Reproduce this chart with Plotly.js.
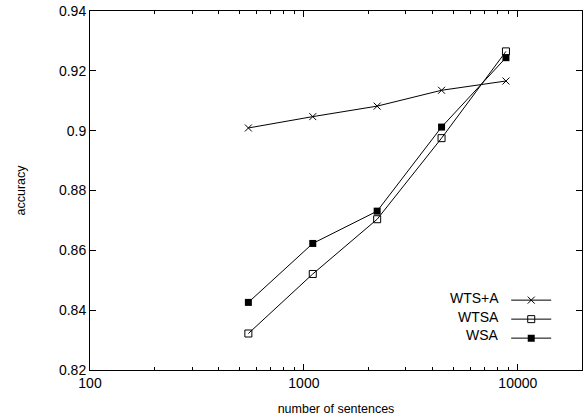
<!DOCTYPE html>
<html>
<head>
<meta charset="utf-8">
<script src="https://cdn.plot.ly/plotly-3.0.1.min.js"></script>
<style>html,body{margin:0;padding:0;background:#fff;}#chart{width:584px;height:419px;}</style>
</head>
<body>
<div id="chart"></div>
<script>
const sentences = [550, 1100, 2200, 4400, 8800];
const wtsA = [0.9009, 0.9047, 0.9082, 0.9135, 0.9166];
const wtsa = [0.8322, 0.8521, 0.8704, 0.8975, 0.9265];
const wsa = [0.8426, 0.8623, 0.8731, 0.9012, 0.9244];
const seriesNames = ["WTS+A", "WTSA", "WSA"];
const yTickVals = [0.82, 0.84, 0.86, 0.88, 0.90, 0.92, 0.94];
const yTickText = ["0.82", "0.84", "0.86", "0.88", "0.9", "0.92", "0.94"];
const xTickVals = [100, 1000, 10000];
const xTickText = ["100", "1000", "10000"];
const xMinorVals = [200,300,400,500,600,700,800,900,2000,3000,4000,5000,6000,7000,8000,9000];

const font = "Liberation Sans, Arial, Helvetica, sans-serif";
const lineStyle = {color: "#000", width: 1};
const traces = [
  {x: sentences, y: wtsA, name: "", mode: "lines+markers", line: lineStyle,
   marker: {symbol: "x-thin-open", size: 7, color: "#000", line: {width: 1, color: "#000"}}},
  {x: sentences, y: wtsa, name: "", mode: "lines+markers", line: lineStyle,
   marker: {symbol: "square-open", size: 7, color: "#000", line: {width: 1, color: "#000"}}},
  {x: sentences, y: wsa, name: "", mode: "lines+markers", line: lineStyle,
   marker: {symbol: "square", size: 7, color: "#000", line: {width: 0, color: "#000"}}}
];

const legendRowY = [0.200, 0.149, 0.098];
const annotations = seriesNames.map((n, i) => ({
  text: n, xref: "paper", yref: "paper", x: 0.835, y: legendRowY[i],
  xanchor: "right", yanchor: "middle", showarrow: false,
  font: {family: font, size: 14, color: "#000"}
}));

const layout = {
  width: 584, height: 419,
  margin: {l: 90, r: 2, t: 11, b: 49},
  paper_bgcolor: "#fff", plot_bgcolor: "#fff",
  font: {family: font, size: 14, color: "#000"},
  showlegend: true,
  legend: {x: 0.846, y: 0.235, xanchor: "left", yanchor: "top", bgcolor: "rgba(0,0,0,0)",
           font: {family: font, size: 11}, itemwidth: 40, tracegroupgap: 0},
  annotations: annotations,
  xaxis: {
    type: "log", range: [2, 4.3],
    title: {text: "number of sentences", font: {size: 12.5}, standoff: 14},
    tickvals: xTickVals, ticktext: xTickText,
    ticks: "inside", ticklen: 6, tickwidth: 1, tickcolor: "#000",
    minor: {tickvals: xMinorVals, ticks: "inside", ticklen: 3, tickwidth: 1, tickcolor: "#000", showgrid: false},
    showline: true, linecolor: "#000", linewidth: 1, mirror: "allticks",
    showgrid: false, zeroline: false, tickfont: {size: 14}
  },
  yaxis: {
    range: [0.82, 0.94],
    title: {text: "accuracy", font: {size: 12.5}, standoff: 30},
    tickvals: yTickVals, ticktext: yTickText,
    ticks: "inside", ticklen: 6, tickwidth: 1, tickcolor: "#000",
    showline: true, linecolor: "#000", linewidth: 1, mirror: "allticks",
    showgrid: false, zeroline: false, tickfont: {size: 14}
  }
};

Plotly.newPlot("chart", traces, layout, {displayModeBar: false, staticPlot: true});
</script>
</body>
</html>
